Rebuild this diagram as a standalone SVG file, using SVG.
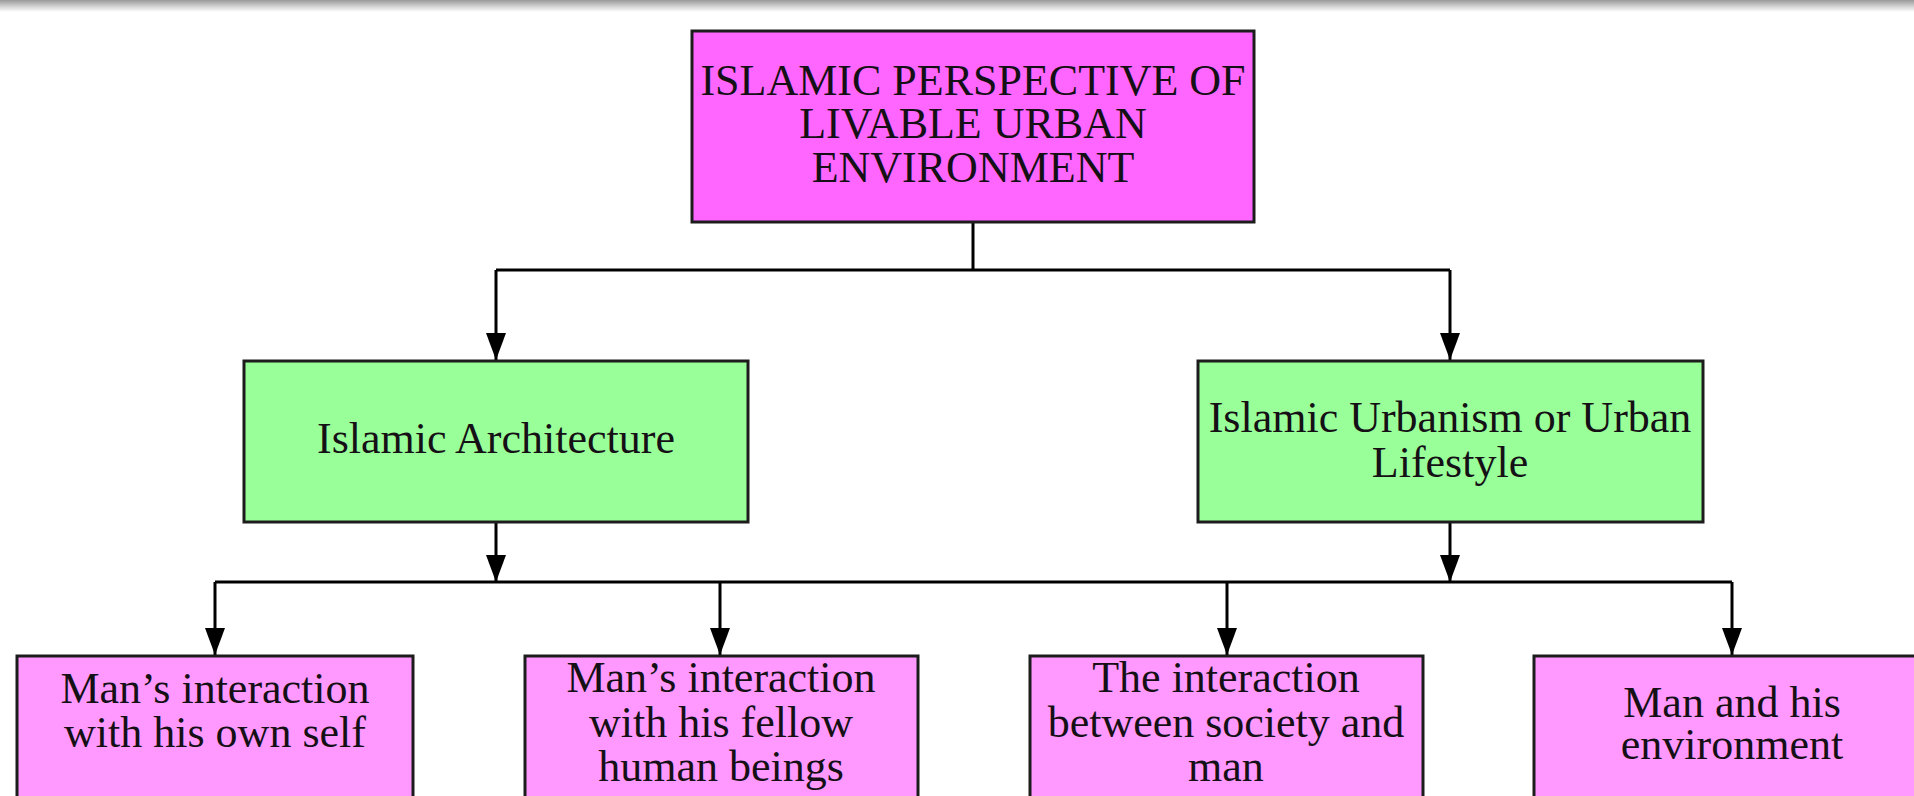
<svg xmlns="http://www.w3.org/2000/svg" width="1914" height="796" viewBox="0 0 1914 796">
<defs>
<linearGradient id="topbar" x1="0" y1="0" x2="0" y2="1">
<stop offset="0" stop-color="#9a9a9a"/>
<stop offset="0.5" stop-color="#cfcfcf"/>
<stop offset="1" stop-color="#ffffff"/>
</linearGradient>
<marker id="arr" viewBox="0 0 27 20" refX="27" refY="10" markerWidth="27" markerHeight="20" markerUnits="userSpaceOnUse" orient="auto">
<path d="M0,0 L27,10 L0,20 Z" fill="#000"/>
</marker>
<style>
.box{stroke:#1c1c1c;stroke-width:3}
.top{fill:#ff66ff}
.mid{fill:#99ff99}
.bot{fill:#ff99ff}
.t{font-family:"Liberation Serif","Times New Roman",serif;font-size:44px;fill:#151015;text-anchor:middle}
.c{stroke:#000;stroke-width:3;fill:none}
</style>
</defs>
<rect x="0" y="0" width="1914" height="796" fill="#ffffff"/>
<rect x="0" y="0" width="1914" height="12" fill="url(#topbar)"/>

<g id="connectors">
<path class="c" d="M973,222 V270 M496,270 H1450"/>
<path class="c" d="M496,270 V360" marker-end="url(#arr)"/>
<path class="c" d="M1450,270 V360" marker-end="url(#arr)"/>
<path class="c" d="M496,522 V582" marker-end="url(#arr)"/>
<path class="c" d="M1450,522 V582" marker-end="url(#arr)"/>
<path class="c" d="M215,582 H1732"/>
<path class="c" d="M215,582 V655" marker-end="url(#arr)"/>
<path class="c" d="M720,582 V655" marker-end="url(#arr)"/>
<path class="c" d="M1227,582 V655" marker-end="url(#arr)"/>
<path class="c" d="M1732,582 V655" marker-end="url(#arr)"/>
</g>

<g id="node-root">
<rect class="box top" x="692" y="31" width="562" height="191"/>
<text class="t" x="973" y="95">ISLAMIC PERSPECTIVE OF</text>
<text class="t" x="973" y="138">LIVABLE URBAN</text>
<text class="t" x="973" y="182">ENVIRONMENT</text>
</g>

<g id="node-architecture">
<rect class="box mid" x="244" y="361" width="504" height="161"/>
<text class="t" x="496" y="453">Islamic Architecture</text>
</g>

<g id="node-urbanism">
<rect class="box mid" x="1198" y="361" width="505" height="161"/>
<text class="t" x="1450" y="432">Islamic Urbanism or Urban</text>
<text class="t" x="1450" y="477">Lifestyle</text>
</g>

<g id="node-self">
<rect class="box bot" x="17" y="656" width="396" height="170"/>
<text class="t" x="215" y="703">Man’s interaction</text>
<text class="t" x="215" y="747">with his own self</text>
</g>

<g id="node-fellow">
<rect class="box bot" x="525" y="656" width="393" height="170"/>
<text class="t" x="721" y="692">Man’s interaction</text>
<text class="t" x="721" y="737">with his fellow</text>
<text class="t" x="721" y="781">human beings</text>
</g>

<g id="node-society">
<rect class="box bot" x="1030" y="656" width="393" height="170"/>
<text class="t" x="1226" y="692">The interaction</text>
<text class="t" x="1226" y="737">between society and</text>
<text class="t" x="1226" y="781">man</text>
</g>

<g id="node-environment">
<rect class="box bot" x="1534" y="656" width="400" height="170"/>
<text class="t" x="1732" y="717">Man and his</text>
<text class="t" x="1732" y="759">environment</text>
</g>
</svg>
